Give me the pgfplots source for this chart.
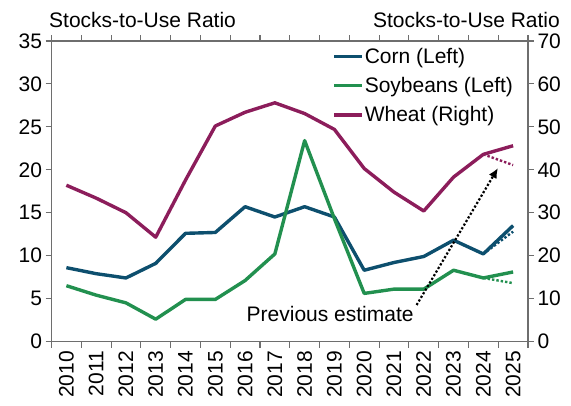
\documentclass[border=0pt]{standalone}
\usepackage{fontspec}
\setmainfont{Liberation Sans}
\usepackage{pgfplots}
\pgfplotsset{compat=1.18}
\usetikzlibrary{arrows.meta}

\definecolor{corn}{HTML}{0D4F6E}
\definecolor{soy}{HTML}{22904F}
\definecolor{wheat}{HTML}{8C1D5B}
\definecolor{axgray}{HTML}{6E6E6E}

\newcommand{\chartfont}{\fontsize{21}{25}\selectfont}

\pgfplotsset{
  base/.style={
    scale only axis,
    width=476.5pt, height=300.5pt,
    xmin=2009.5, xmax=2025.5,
    ymin=0,
    tick align=outside,
    axis line style={axgray, line width=1.1pt},
    major tick style={axgray, line width=1.1pt},
    minor tick style={axgray, line width=1.1pt},
    major tick length=6pt, minor tick length=6pt,
    tick label style={font=\chartfont},
    /pgf/number format/assume math mode=true,
    clip=false,
  },
}

\begin{document}
\begin{tikzpicture}
\begin{axis}[base,
    name=L,
    ymax=35, ytick={0,5,...,35},
    axis y line*=left,
    axis x line*=box,
    xtick={2010,...,2025},
    xticklabels={2010,2011,2012,2013,2014,2015,2016,2017,2018,2019,2020,2021,2022,2023,2024,2025},
    major x tick style={draw=none},
    minor xtick={2009.5,2010.5,...,2025.5},
    xticklabel style={rotate=90, anchor=east},
]
% Corn (left)
\addplot[corn, line width=3.4pt, line join=round] coordinates {
  (2010,8.6) (2011,7.9) (2012,7.4) (2013,9.1) (2014,12.6) (2015,12.7)
  (2016,15.7) (2017,14.5) (2018,15.7) (2019,14.5) (2020,8.3) (2021,9.2)
  (2022,9.9) (2023,11.8) (2024,10.2) (2025,13.5)
};
\addplot[corn, line width=2.4pt, dotted] coordinates {(2024,10.2) (2025,12.8)};
% Soybeans (left)
\addplot[soy, line width=3.4pt, line join=round] coordinates {
  (2010,6.5) (2011,5.4) (2012,4.5) (2013,2.6) (2014,4.9) (2015,4.9)
  (2016,7.1) (2017,10.2) (2018,23.4) (2019,14.3) (2020,5.6) (2021,6.1)
  (2022,6.1) (2023,8.3) (2024,7.4) (2025,8.1)
};
\addplot[soy, line width=2.4pt, dotted] coordinates {(2024,7.4) (2025,6.8)};
% annotation
\draw[line width=2.2pt, dotted, -{Latex[length=10pt,width=9pt]}]
  (axis cs:2021.76,4.25) -- (axis cs:2024.49,20.2);
\node[anchor=east, font=\chartfont, inner sep=1pt]
  at (axis cs:2021.7,3.2) {Previous estimate};
\end{axis}

\begin{axis}[base,
    ymax=70, ytick={0,10,...,70},
    axis y line*=right,
    axis x line=none,
    legend style={at={(0.589,0.98)}, anchor=north west, draw=none, fill=none,
      inner sep=0pt, row sep=10.5pt,
      font=\chartfont,
      nodes={inner sep=1pt}},
    legend cell align=left,
    legend image code/.code={\draw[#1, line width=3.4pt] (0pt,0pt) -- (28pt,0pt);},
]
\addlegendimage{corn}
\addlegendentry{Corn (Left)}
\addlegendimage{soy}
\addlegendentry{Soybeans (Left)}
% Wheat (right)
\addplot[wheat, line width=3.4pt, line join=round] coordinates {
  (2010,36.4) (2011,33.4) (2012,30.0) (2013,24.3) (2014,37.6) (2015,50.2)
  (2016,53.4) (2017,55.6) (2018,53.1) (2019,49.4) (2020,40.3) (2021,34.8)
  (2022,30.4) (2023,38.3) (2024,43.6) (2025,45.6)
};
\addlegendentry{Wheat (Right)}
\addplot[wheat, line width=2.4pt, dotted, forget plot] coordinates {(2024,43.6) (2025,41.1)};
\end{axis}

\node[anchor=west, font=\chartfont, inner sep=0pt]
  at ([xshift=-2.5pt,yshift=21pt]L.north west) {Stocks-to-Use Ratio};
\node[anchor=east, font=\chartfont, inner sep=0pt]
  at ([xshift=32pt,yshift=21pt]L.north east) {Stocks-to-Use Ratio};

\pgfresetboundingbox
\path[use as bounding box] ([xshift=-51.5pt,yshift=-63.5pt]L.south west)
  rectangle ([xshift=43pt,yshift=41pt]L.north east);
\end{tikzpicture}
\end{document}
